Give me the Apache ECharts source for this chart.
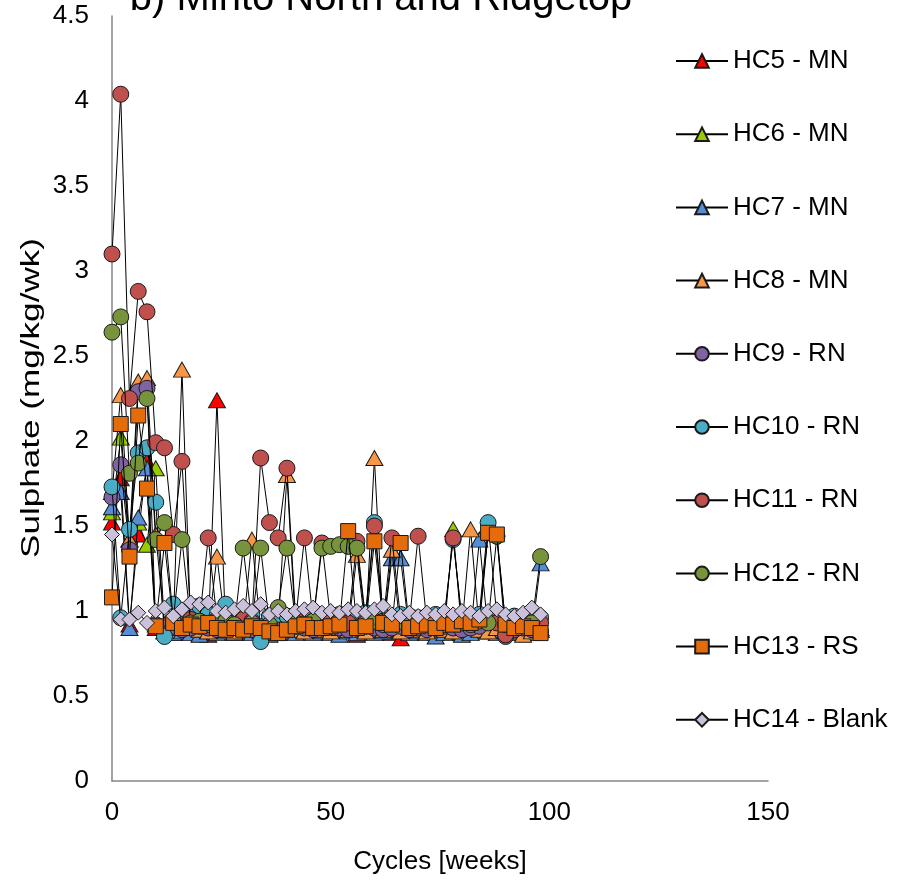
<!DOCTYPE html>
<html>
<head>
<meta charset="utf-8">
<script src="https://cdn.jsdelivr.net/npm/echarts@6/dist/echarts.min.js"></script>
<style>
  html, body { margin: 0; padding: 0; background: #ffffff; }
  #chart { width: 908px; height: 880px; }
</style>
</head>
<body>
<div id="chart"></div>
<script>
// Sampling cycles (weeks)
const cycles = [0, 2, 4, 6, 8, 10, 12, 14, 16, 18, 20, 22, 24, 26, 28, 30, 32, 34, 36, 38,
  40, 42, 44, 46, 48, 50, 52, 54, 56, 58, 60, 62, 64, 66, 68, 70, 72, 74, 76, 78,
  80, 82, 84, 86, 88, 90, 92, 94, 96, 98];

// Sulphate release rates (mg/kg/wk) per humidity cell
const hc5 = [1.52, 1.78, 0.92, 1.45, 1.88, 0.90, 0.88, 0.87, 0.89, 0.88, 0.87, 0.86, 2.24, 0.88, 0.87, 0.88, 0.89, 0.88, 0.87, 0.88,
  0.89, 0.88, 0.90, 0.89, 0.88, 0.89, 0.90, 0.88, 0.86, 0.89, 0.90, 0.88, 0.87, 0.84, 0.88, 0.89, 0.88, 0.87, 0.88, 0.90,
  0.88, 0.89, 0.90, 0.88, 0.89, 0.88, 0.89, 0.90, 0.89, 0.90];
const hc6 = [1.58, 2.02, 1.42, 1.52, 1.39, 1.84, 0.90, 0.89, 0.88, 0.90, 0.89, 0.88, 0.89, 0.90, 0.88, 0.89, 0.88, 0.90, 0.89, 0.88,
  0.90, 0.89, 0.88, 0.90, 0.89, 0.88, 0.90, 0.89, 0.88, 0.90, 0.89, 0.90, 0.88, 0.89, 0.90, 0.88, 0.89, 0.90, 0.89, 1.48,
  0.87, 0.89, 0.88, 0.90, 0.89, 0.88, 0.89, 0.87, 0.88, 0.89];
const hc7 = [1.61, 1.70, 0.90, 1.55, 1.84, 0.92, 0.88, 0.87, 0.88, 0.87, 0.86, 0.88, 0.87, 0.88, 0.87, 0.88, 0.87, 0.88, 0.86, 0.87,
  0.88, 0.87, 0.88, 0.87, 0.88, 0.87, 0.86, 0.88, 0.87, 0.88, 0.87, 0.88, 1.31, 1.31, 0.87, 0.88, 0.87, 0.85, 0.87, 0.88,
  0.86, 0.87, 1.42, 0.88, 0.87, 0.88, 0.87, 0.88, 0.87, 1.28];
const hc8 = [1.70, 2.27, 1.42, 2.35, 2.37, 1.45, 0.92, 0.90, 2.42, 0.90, 0.89, 0.88, 1.32, 0.89, 0.88, 0.90, 1.42, 0.89, 0.88, 0.90,
  1.80, 0.89, 0.88, 0.90, 0.89, 0.88, 0.90, 0.89, 1.33, 0.88, 1.90, 0.89, 1.36, 0.88, 0.90, 0.89, 0.88, 0.90, 0.89, 0.88,
  0.90, 1.48, 0.89, 0.88, 0.90, 0.89, 0.88, 0.86, 0.88, 0.89];
const hc9 = [1.67, 1.86, 1.36, 2.29, 2.31, 0.92, 0.90, 0.91, 0.89, 0.90, 0.91, 0.90, 0.89, 0.90, 0.91, 0.90, 0.89, 0.91, 0.90, 0.89,
  0.90, 0.91, 0.90, 0.89, 0.90, 0.91, 0.90, 0.89, 0.90, 0.91, 0.90, 0.89, 0.90, 0.91, 0.89, 0.90, 0.89, 0.90, 0.91, 0.90,
  0.89, 0.90, 0.91, 1.46, 1.44, 0.85, 0.89, 0.90, 0.89, 0.88];
const hc10 = [1.73, 0.96, 1.48, 1.93, 1.96, 1.64, 0.85, 1.04, 0.98, 0.97, 1.03, 0.98, 0.97, 1.04, 0.98, 0.97, 0.98, 0.82, 0.97, 0.98,
  0.97, 0.96, 0.98, 0.97, 0.96, 0.97, 0.98, 0.96, 0.97, 0.99, 1.52, 0.97, 0.96, 0.98, 0.97, 0.96, 0.97, 0.98, 0.97, 1.42,
  0.96, 0.97, 0.98, 1.52, 0.97, 0.96, 0.97, 0.96, 0.97, 0.96];
const hc11 = [3.10, 4.04, 2.25, 2.88, 2.76, 1.99, 1.96, 1.45, 1.88, 0.95, 0.94, 1.43, 0.95, 0.94, 0.93, 0.95, 0.94, 1.90, 1.52, 1.43,
  1.84, 0.95, 1.43, 0.94, 1.40, 0.95, 0.94, 0.93, 1.41, 0.95, 1.50, 0.94, 1.43, 0.95, 0.94, 1.44, 0.93, 0.94, 0.95, 1.43,
  0.94, 0.93, 0.95, 0.94, 0.93, 0.86, 0.94, 0.93, 0.94, 0.93];
const hc12 = [2.64, 2.73, 1.81, 1.87, 2.25, 1.42, 1.52, 0.95, 1.42, 0.93, 0.94, 0.92, 0.93, 0.94, 0.92, 1.37, 0.93, 1.37, 0.92, 1.02,
  1.37, 0.93, 0.92, 0.94, 1.37, 1.38, 1.39, 1.38, 1.37, 0.93, 0.94, 0.92, 0.93, 0.94, 0.92, 0.93, 0.94, 0.93, 0.92, 0.94,
  0.93, 0.92, 0.94, 0.93, 1.44, 0.92, 0.93, 0.92, 0.93, 1.32];
const hc13 = [1.08, 2.10, 1.32, 2.15, 1.72, 0.91, 1.40, 0.93, 0.90, 0.92, 0.91, 0.93, 0.90, 0.89, 0.90, 0.89, 0.91, 0.90, 0.88, 0.87,
  0.89, 0.91, 0.92, 0.90, 0.90, 0.91, 0.92, 1.47, 0.90, 0.91, 1.41, 0.93, 0.92, 1.40, 0.90, 0.91, 0.92, 0.90, 0.93, 0.92,
  0.94, 0.93, 0.95, 1.46, 1.45, 0.92, 0.90, 0.91, 0.90, 0.87];
const hc14 = [1.45, 0.95, 0.95, 0.99, 0.93, 1.00, 1.02, 0.97, 1.01, 1.05, 1.04, 1.05, 1.00, 0.99, 1.01, 1.03, 1.00, 1.04, 0.98, 1.00,
  0.98, 1.00, 1.01, 1.02, 0.99, 1.00, 0.99, 1.01, 1.00, 0.99, 1.01, 1.03, 0.98, 0.97, 0.99, 0.97, 0.99, 0.98, 1.00, 0.98,
  1.00, 0.99, 0.97, 1.00, 1.01, 0.98, 0.97, 0.99, 1.02, 0.98];

const seriesNames = ['HC5 - MN', 'HC6 - MN', 'HC7 - MN', 'HC8 - MN', 'HC9 - RN',
  'HC10 - RN', 'HC11 - RN', 'HC12 - RN', 'HC13 - RS', 'HC14 - Blank'];
const seriesValues = [hc5, hc6, hc7, hc8, hc9, hc10, hc11, hc12, hc13, hc14];
const seriesColors = ['#FF0000', '#99CC00', '#558ED5', '#F79646', '#8064A2',
  '#4BACC6', '#C0504D', '#77933C', '#E46C0A', '#CCC1DA'];
const seriesSymbols = ['triangle', 'triangle', 'triangle', 'triangle', 'circle',
  'circle', 'circle', 'circle', 'rect', 'diamond'];
const symbolSizes = {
  triangle: [17, 15],
  circle: 16,
  rect: 15,
  diamond: [15, 15]
};

const FONT = '"Liberation Sans", Arial, sans-serif';

const chart = echarts.init(document.getElementById('chart'), null, { renderer: 'canvas' });

const series = seriesNames.map((name, k) => ({
  name: name,
  type: 'line',
  data: cycles.map((c, i) => [c, seriesValues[k][i]]),
  symbol: seriesSymbols[k],
  symbolSize: symbolSizes[seriesSymbols[k]],
  showAllSymbol: true,
  lineStyle: { color: '#000000', width: 1 },
  itemStyle: { color: seriesColors[k], borderColor: '#1a1a1a', borderWidth: 1 },
  emphasis: { disabled: true },
  z: 2 + k
}));

chart.setOption({
  animation: false,
  backgroundColor: '#ffffff',
  textStyle: { fontFamily: FONT },
  graphic: [{
    // chart title, partly above the top edge
    type: 'text',
    x: 381,
    y: -1,
    style: {
      text: 'b) Minto North and Ridgetop',
      font: '40px ' + FONT,
      fill: '#000000',
      align: 'center',
      verticalAlign: 'middle'
    }
  }, {
    // vertical axis title, drawn elongated along its reading direction
    type: 'text',
    x: 32,
    y: 398,
    rotation: Math.PI / 2,
    scaleX: 1.35,
    style: {
      text: 'Sulphate (mg/kg/wk)',
      font: '26px ' + FONT,
      fill: '#000000',
      align: 'center',
      verticalAlign: 'middle'
    }
  }],
  grid: { left: 112, top: 16, right: 140, bottom: 99 },
  xAxis: {
    type: 'value',
    min: 0,
    max: 150,
    interval: 50,
    name: 'Cycles [weeks]',
    nameLocation: 'middle',
    nameGap: 68,
    nameTextStyle: { fontSize: 26, color: '#000000', fontFamily: FONT },
    axisLine: { onZero: false, lineStyle: { color: '#868686', width: 1.5 } },
    axisTick: { show: false },
    splitLine: { show: false },
    axisLabel: { fontSize: 26, color: '#000000', margin: 19, fontFamily: FONT }
  },
  yAxis: {
    type: 'value',
    min: 0,
    max: 4.5,
    interval: 0.5,
    axisLine: { show: true, lineStyle: { color: '#868686', width: 1.5 } },
    axisTick: { show: false },
    splitLine: { show: false },
    axisLabel: { fontSize: 26, color: '#000000', margin: 23, fontFamily: FONT }
  },
  legend: {
    orient: 'vertical',
    left: 670,
    top: 43,
    itemWidth: 52,
    itemHeight: 17,
    itemGap: 47.2,
    selectedMode: false,
    textStyle: { fontSize: 26, lineHeight: 26, color: '#000000', fontFamily: FONT },
    data: seriesNames
  },
  series: series
});
</script>
</body>
</html>
